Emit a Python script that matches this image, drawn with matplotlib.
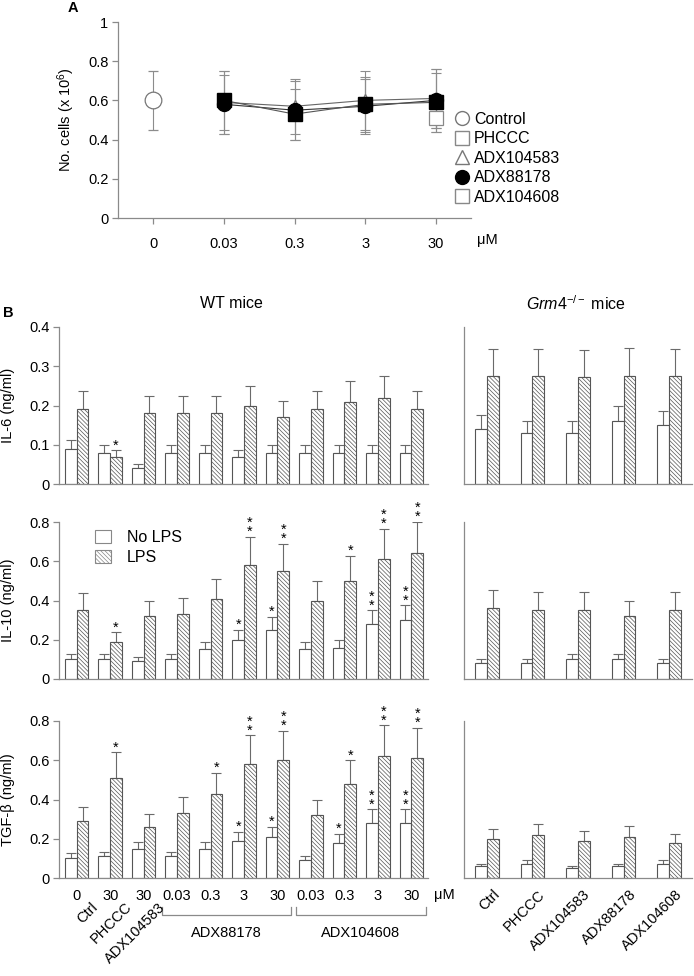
import numpy as np
import matplotlib
matplotlib.use('Agg')
import matplotlib.pyplot as plt
from matplotlib.lines import Line2D
from matplotlib.patches import Patch

plt.rcParams['font.family'] = ['Liberation Sans', 'DejaVu Sans']
plt.rcParams['mathtext.fontset'] = 'custom'
plt.rcParams['mathtext.rm'] = 'Liberation Sans'
plt.rcParams['mathtext.it'] = 'Liberation Sans:italic'
plt.rcParams['hatch.color'] = '#7a7a7a'
plt.rcParams['hatch.linewidth'] = 0.5

# ---- panel A: cell numbers ----
conc_labels = ['0', '0.03', '0.3', '3', '30']
control_a = 0.60
control_a_err = 0.15
phccc_a = 0.51
phccc_a_err = 0.05
adx104583_a = [0.59, 0.57, 0.60, 0.61]
adx104583_a_err = [0.16, 0.14, 0.15, 0.15]
adx88178_a = [0.58, 0.55, 0.57, 0.60]
adx88178_a_err = [0.15, 0.15, 0.14, 0.16]
adx104608_a = [0.60, 0.53, 0.58, 0.59]
adx104608_a_err = [0.15, 0.13, 0.14, 0.15]

# ---- panel B: WT mice ----
wt_doses = ['0', '30', '30', '0.03', '0.3', '3', '30', '0.03', '0.3', '3', '30']
wt_names = ['Ctrl', 'PHCCC', 'ADX104583']

il6_wt_nolps = [0.09, 0.08, 0.04, 0.08, 0.08, 0.07, 0.08, 0.08, 0.08, 0.08, 0.08]
il6_wt_nolps_err = [0.022, 0.02, 0.01, 0.02, 0.02, 0.017, 0.02, 0.02, 0.02, 0.02, 0.02]
il6_wt_lps = [0.19, 0.07, 0.18, 0.18, 0.18, 0.20, 0.17, 0.19, 0.21, 0.22, 0.19]
il6_wt_lps_err = [0.047, 0.016, 0.045, 0.045, 0.045, 0.049, 0.041, 0.047, 0.052, 0.054, 0.047]
il6_wt_nolps_sig = [''] * 11
il6_wt_lps_sig = ['', '*', '', '', '', '', '', '', '', '', '']

il10_wt_nolps = [0.10, 0.10, 0.09, 0.10, 0.152, 0.20, 0.25, 0.152, 0.16, 0.28, 0.30]
il10_wt_nolps_err = [0.027, 0.027, 0.022, 0.027, 0.034, 0.052, 0.065, 0.034, 0.04, 0.07, 0.075]
il10_wt_lps = [0.35, 0.19, 0.32, 0.33, 0.41, 0.58, 0.55, 0.40, 0.50, 0.61, 0.64]
il10_wt_lps_err = [0.09, 0.047, 0.08, 0.085, 0.10, 0.145, 0.137, 0.10, 0.126, 0.156, 0.16]
il10_wt_nolps_sig = ['', '', '', '', '', '*', '*', '', '', '**', '**']
il10_wt_lps_sig = ['', '*', '', '', '', '**', '**', '', '*', '**', '**']

tgf_wt_nolps = [0.10, 0.11, 0.15, 0.11, 0.15, 0.19, 0.21, 0.09, 0.178, 0.278, 0.278]
tgf_wt_nolps_err = [0.025, 0.025, 0.035, 0.025, 0.035, 0.046, 0.05, 0.02, 0.046, 0.072, 0.072]
tgf_wt_lps = [0.29, 0.51, 0.26, 0.33, 0.43, 0.58, 0.60, 0.32, 0.48, 0.62, 0.61]
tgf_wt_lps_err = [0.07, 0.13, 0.065, 0.083, 0.106, 0.147, 0.15, 0.08, 0.12, 0.158, 0.154]
tgf_wt_nolps_sig = ['', '', '', '', '', '*', '*', '', '*', '**', '**']
tgf_wt_lps_sig = ['', '*', '', '', '*', '**', '**', '', '*', '**', '**']

# ---- panel B: Grm4-/- mice ----
ko_names = ['Ctrl', 'PHCCC', 'ADX104583', 'ADX88178', 'ADX104608']
il6_ko_nolps = [0.14, 0.13, 0.13, 0.16, 0.15]
il6_ko_nolps_err = [0.035, 0.031, 0.031, 0.04, 0.037]
il6_ko_lps = [0.274, 0.274, 0.272, 0.276, 0.274]
il6_ko_lps_err = [0.07, 0.07, 0.069, 0.07, 0.069]
il10_ko_nolps = [0.082, 0.082, 0.10, 0.10, 0.082]
il10_ko_nolps_err = [0.018, 0.018, 0.028, 0.028, 0.018]
il10_ko_lps = [0.36, 0.35, 0.35, 0.322, 0.35]
il10_ko_lps_err = [0.091, 0.092, 0.092, 0.078, 0.092]
tgf_ko_nolps = [0.059, 0.073, 0.05, 0.059, 0.073]
tgf_ko_nolps_err = [0.014, 0.019, 0.013, 0.014, 0.019]
tgf_ko_lps = [0.199, 0.22, 0.189, 0.21, 0.18]
tgf_ko_lps_err = [0.049, 0.055, 0.048, 0.053, 0.045]

W, H = 694, 976
fig = plt.figure(figsize=(W / 100, H / 100), dpi=100)
FS = 10.5
FSL = 11.5
GRAY = '#8a8a8a'
EDGE = '#555555'
ERR = '#6a6a6a'


def add_ax(left, top, right, bottom):
    return fig.add_axes([left / W, 1 - bottom / H, (right - left) / W, (bottom - top) / H])


def style(ax):
    for s in ['top', 'right']:
        ax.spines[s].set_visible(False)
    for s in ['left', 'bottom']:
        ax.spines[s].set_color(GRAY)
        ax.spines[s].set_linewidth(0.9)
    ax.tick_params(colors=GRAY, labelcolor='black', labelsize=FS, width=0.9)


# ===== Panel A =====
axA = add_ax(118, 22, 471, 218)
style(axA)
xa = np.arange(1, 5)
ebkw = dict(ecolor='#8c8c8c', elinewidth=0.8, capsize=3.5, capthick=0.8, linestyle='none')
axA.errorbar([0], [control_a], yerr=control_a_err, marker='o', ms=12, mfc='white',
             mec='#777777', mew=0.9, zorder=3, **ebkw)
axA.errorbar(xa, adx104583_a, yerr=adx104583_a_err, zorder=2, **ebkw)
axA.errorbar(xa, adx88178_a, yerr=adx88178_a_err, zorder=2, **ebkw)
axA.errorbar(xa, adx104608_a, yerr=adx104608_a_err, zorder=2, **ebkw)
axA.errorbar([4], [phccc_a], yerr=phccc_a_err, zorder=2, **ebkw)
axA.plot(xa, adx104583_a, color='#666666', lw=0.8, marker='^', ms=9, mfc='white',
         mec='#777777', zorder=3)
axA.plot(xa, adx88178_a, color='#333333', lw=0.8, marker='o', ms=10, mfc='black',
         mec='black', zorder=4)
axA.plot(xa, adx104608_a, color='#555555', lw=0.8, marker='s', ms=10, mfc='black',
         mec='black', zorder=5)
axA.plot([4], [phccc_a], marker='s', ms=10, mfc='white', mec='#888888', mew=0.9,
         ls='none', zorder=3)
axA.set_xlim(-0.5, 4.5)
axA.set_ylim(0, 1)
axA.set_yticks([0, 0.2, 0.4, 0.6, 0.8, 1.0])
axA.set_yticklabels(['0', '0.2', '0.4', '0.6', '0.8', '1'])
axA.set_xticks(range(5))
axA.set_xticklabels(conc_labels)
axA.tick_params(axis='x', length=4, pad=10)
axA.tick_params(axis='y', length=4, pad=3)
axA.set_ylabel('No. cells (x 10$^{6}$)', fontsize=FS)
axA.yaxis.set_label_coords(-0.115, 0.5)
axA.text(4.58, -0.11, '\u03bcM', transform=axA.get_xaxis_transform(), fontsize=FS,
         ha='left', va='center', clip_on=False)
legA = [
    Line2D([], [], ls='none', marker='o', ms=10, mfc='white', mec='#777777'),
    Line2D([], [], ls='none', marker='s', ms=10, mfc='white', mec='#888888'),
    Line2D([], [], ls='none', marker='^', ms=10, mfc='white', mec='#777777'),
    Line2D([], [], ls='none', marker='o', ms=10, mfc='black', mec='black'),
    Line2D([], [], ls='none', marker='s', ms=10, mfc='white', mec='#888888'),
]
fig.legend(legA, ['Control', 'PHCCC', 'ADX104583', 'ADX88178', 'ADX104608'],
           loc='upper left', bbox_to_anchor=(454 / W, 1 - 112 / H), frameon=False,
           fontsize=FSL, handlelength=1.0, handletextpad=0.25, labelspacing=0.28,
           borderpad=0, borderaxespad=0)
fig.text(68 / W, 1 - 8 / H, 'A', fontsize=FS, fontweight='bold', va='center')

# ===== Panel B =====
rows = [(327, 484, 0.4), (522, 679, 0.8), (721, 878, 0.8)]
ylabels = ['IL-6 (ng/ml)', 'IL-10 (ng/ml)', 'TGF-\u03b2 (ng/ml)']
wt_data = [
    (il6_wt_nolps, il6_wt_nolps_err, il6_wt_lps, il6_wt_lps_err, il6_wt_nolps_sig, il6_wt_lps_sig),
    (il10_wt_nolps, il10_wt_nolps_err, il10_wt_lps, il10_wt_lps_err, il10_wt_nolps_sig, il10_wt_lps_sig),
    (tgf_wt_nolps, tgf_wt_nolps_err, tgf_wt_lps, tgf_wt_lps_err, tgf_wt_nolps_sig, tgf_wt_lps_sig),
]
ko_data = [
    (il6_ko_nolps, il6_ko_nolps_err, il6_ko_lps, il6_ko_lps_err),
    (il10_ko_nolps, il10_ko_nolps_err, il10_ko_lps, il10_ko_lps_err),
    (tgf_ko_nolps, tgf_ko_nolps_err, tgf_ko_lps, tgf_ko_lps_err),
]
HATCH = '\\\\\\\\\\\\\\\\'


def draw_bars(ax, x, half, nolps, nolps_err, lps, lps_err):
    ax.bar(x - half, nolps, width=2 * half, color='white', edgecolor=EDGE, linewidth=0.8, zorder=2)
    ax.bar(x + half, lps, width=2 * half, color='white', edgecolor=EDGE, linewidth=0.8,
           hatch=HATCH, zorder=2)
    kw = dict(ecolor=ERR, elinewidth=0.8, capsize=3.5, capthick=0.8, ls='none', zorder=1)
    ax.errorbar(x - half, nolps, yerr=[np.zeros(len(x)), nolps_err], **kw)
    ax.errorbar(x + half, lps, yerr=[np.zeros(len(x)), lps_err], **kw)


def draw_stars(ax, xs, tops, sigs):
    for xx, t, s in zip(xs, tops, sigs):
        if s:
            ax.annotate('\n'.join('*' * len(s)), (xx, t), xytext=(0, -1.5),
                        textcoords='offset points', ha='center', va='bottom',
                        fontsize=FS, linespacing=0.55, annotation_clip=False)


xw = np.arange(len(wt_doses))
xk = np.arange(len(ko_names))
hw = 0.175
hk = 0.129
for i, (top, bot, ymax) in enumerate(rows):
    axw = add_ax(59, top, 428, bot)
    style(axw)
    nl, nle, lp, lpe, nls, lps_ = wt_data[i]
    draw_bars(axw, xw, hw, nl, nle, lp, lpe)
    draw_stars(axw, xw - hw, np.array(nl) + np.array(nle), nls)
    draw_stars(axw, xw + hw, np.array(lp) + np.array(lpe), lps_)
    axw.set_xlim(-0.53, 10.5)
    axw.set_ylim(0, ymax)
    step = 0.1 if ymax < 0.5 else 0.2
    ticks = np.arange(0, ymax + 1e-9, step)
    axw.set_yticks(ticks)
    axw.set_yticklabels(['0'] + ['%g' % v for v in ticks[1:]])
    axw.tick_params(axis='y', length=4, pad=3)
    axw.set_ylabel(ylabels[i], fontsize=FS)
    axw.yaxis.set_label_coords(-0.118, 0.5)
    if i < 2:
        axw.set_xticks([])
    else:
        axw.set_xticks(xw)
        axw.set_xticklabels(wt_doses)
        axw.tick_params(axis='x', length=0, pad=8)
        tr = axw.get_xaxis_transform()
        axw.text(10.68, -0.108, '\u03bcM', transform=tr, fontsize=FS, ha='left', va='center')
        for j, name in enumerate(wt_names):
            axw.text(xw[j] + 0.42, -0.14, name, transform=tr, fontsize=FS, rotation=45,
                     ha='right', va='top', rotation_mode='anchor')
        for (x0, x1, label) in [(2.55, 6.4, 'ADX88178'), (6.55, 10.43, 'ADX104608')]:
            axw.plot([x0, x0, x1, x1], [-0.185, -0.236, -0.236, -0.185], transform=tr,
                     color=GRAY, lw=0.9, clip_on=False)
            axw.text((x0 + x1) / 2, -0.35, label, transform=tr, fontsize=FS, ha='center', va='center')
    if i == 1:
        axw.legend([Patch(facecolor='white', edgecolor='#888888', lw=0.8),
                    Patch(facecolor='white', edgecolor='#888888', lw=0.8, hatch=HATCH)],
                   ['No LPS', 'LPS'], loc='upper left', bbox_to_anchor=(95 / W, 1 - 530 / H),
                   bbox_transform=fig.transFigure, frameon=False, fontsize=FSL,
                   handlelength=1.0, handleheight=0.9, handletextpad=1.0, labelspacing=0.3,
                   borderpad=0, borderaxespad=0)

    axk = add_ax(464, top, 692, bot)
    style(axk)
    kn, kne, kl, kle = ko_data[i]
    draw_bars(axk, xk, hk, kn, kne, kl, kle)
    axk.set_xlim(-0.5, 4.5)
    axk.set_ylim(0, ymax)
    axk.set_yticks([])
    axk.set_xticks([])
    if i == 2:
        tr = axk.get_xaxis_transform()
        for j, name in enumerate(ko_names):
            axk.text(xk[j] + 0.12, -0.06, name, transform=tr, fontsize=FS, rotation=45,
                     ha='right', va='top', rotation_mode='anchor')

fig.text(231 / W, 1 - 304 / H, 'WT mice', fontsize=FSL, ha='center', va='center')
fig.text(576 / W, 1 - 304 / H, r'$\it{Grm4}^{-/-}$ mice', fontsize=FSL, ha='center', va='center')
fig.text(3 / W, 1 - 313 / H, 'B', fontsize=FS, fontweight='bold', va='center')

fig.savefig('out.png', dpi=100)
